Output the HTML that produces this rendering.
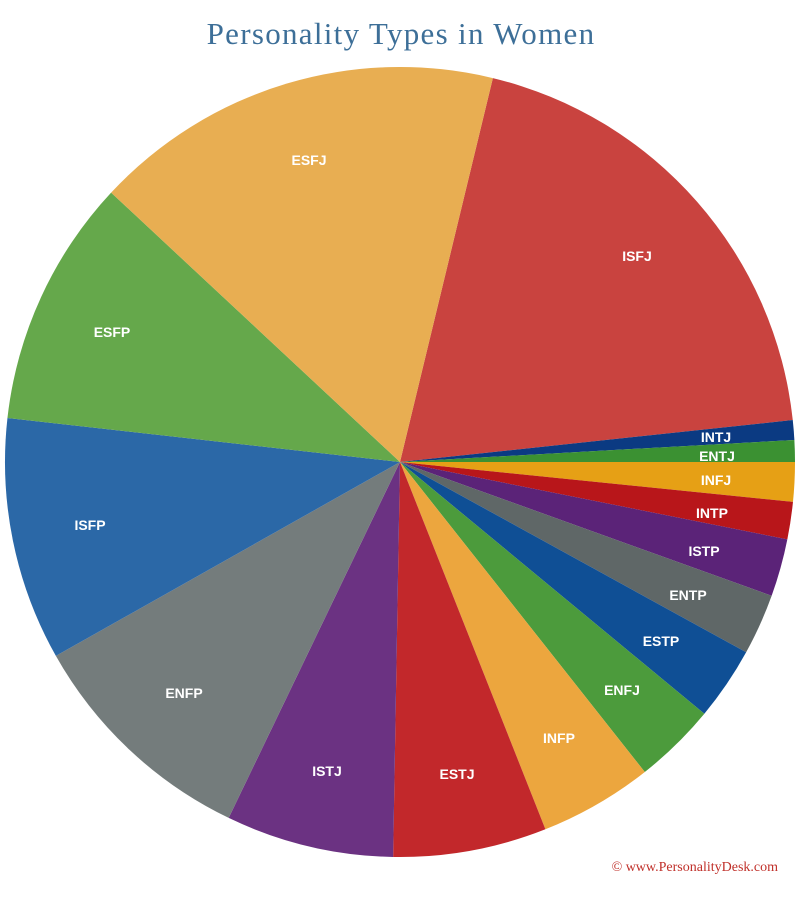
<!DOCTYPE html>
<html><head><meta charset="utf-8"><style>
html,body{margin:0;padding:0;background:#fff;width:800px;height:903px;overflow:hidden}
</style></head><body>
<svg id="s" width="800" height="903" xmlns="http://www.w3.org/2000/svg">
<text x="401" y="44" text-anchor="middle" font-family="'Liberation Serif',serif" font-size="31" letter-spacing="1.3" fill="#3d6f98">Personality Types in Women</text>
<g id="pie"></g>
<text x="778" y="871" text-anchor="end" font-family="'Liberation Serif',serif" font-size="14" fill="#c0302a">© www.PersonalityDesk.com</text>
</svg>
<script>
var cx=400,cy=462,r=395;
var b=[76.4,6.1,3.2,0,-5.8,-11.3,-19.8,-28.8,-39.6,-51.7,-68.4,-91,-115.7,-150.6,-186.4,-223,-283.6];
var cols=["#c9433f","#0b3a82","#3b9132","#e6a015","#b8161a","#5b2378","#5f6767","#0f4f95","#4c9b3c","#eca63e","#c2282b","#6b3282","#747c7c","#2b68a7","#65a84b","#e8ae52"];
var labs=[["ISFJ",637,256],["INTJ",716,437],["ENTJ",717,456],["INFJ",716,480],["INTP",712,513],["ISTP",704,551],["ENTP",688,595],["ESTP",661,641],["ENFJ",622,690],["INFP",559,738],["ESTJ",457,774],["ISTJ",327,771],["ENFP",184,693],["ISFP",90,525],["ESFP",112,332],["ESFJ",309,160]];
var g=document.getElementById('pie'),h='';
function pt(a){a=a*Math.PI/180;return (cx+r*Math.cos(a)).toFixed(2)+','+(cy-r*Math.sin(a)).toFixed(2);}
for(var i=0;i<16;i++){var a1=b[i],a2=b[i+1];var large=(a1-a2)>180?1:0;
h+='<path d="M'+cx+','+cy+' L'+pt(a1)+' A'+r+','+r+' 0 '+large+' 1 '+pt(a2)+' Z" fill="'+cols[i]+'"/>';}
for(var i=0;i<16;i++){h+='<text x="'+labs[i][1]+'" y="'+(labs[i][2]+5)+'" text-anchor="middle" font-family="Liberation Sans,sans-serif" font-weight="bold" font-size="14" fill="#fff">'+labs[i][0]+'</text>';}
g.innerHTML=h;
</script>
</body></html>
